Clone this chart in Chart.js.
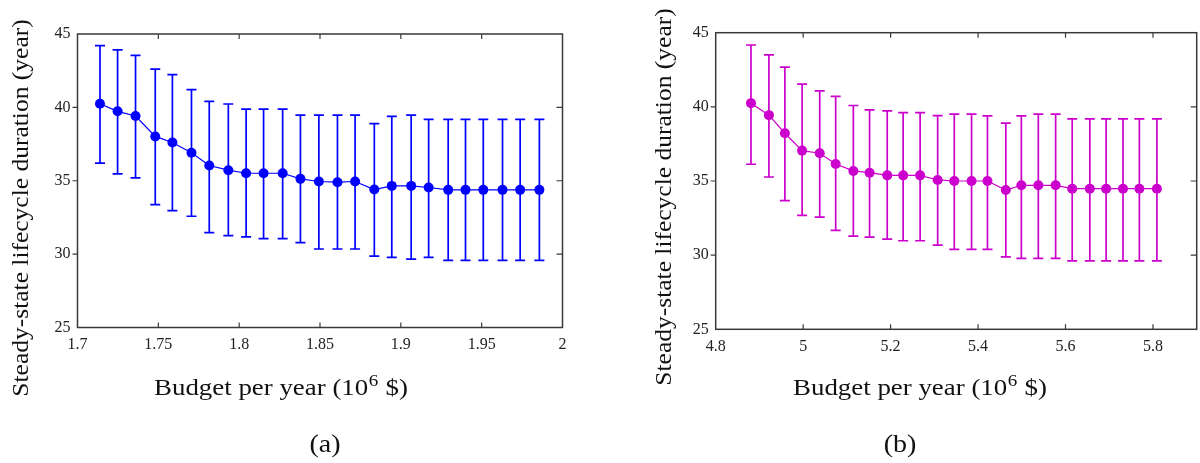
<!DOCTYPE html>
<html>
<head>
<meta charset="utf-8">
<script src="https://cdn.jsdelivr.net/npm/chart.js@4.4.1/dist/chart.umd.min.js"></script>
<style>
  html, body { margin: 0; padding: 0; background: #fff; }
  #wrap { position: relative; width: 1200px; height: 463px; }
  .pane { position: absolute; top: 0; width: 600px; height: 463px; }
</style>
</head>
<body>
<div id="wrap">
  <div class="pane" style="left:0"><canvas id="ca" width="600" height="463"></canvas></div>
  <div class="pane" style="left:600px"><canvas id="cb" width="600" height="463"></canvas></div>
</div>
<script>
// ---------- data: panel (a) ----------
const budgetA = [1.7139, 1.7248, 1.7359, 1.7481, 1.7587, 1.7705, 1.7815, 1.7933, 1.8043, 1.8151, 1.8269, 1.8379, 1.8493,
                 1.8608, 1.8717, 1.8836, 1.8944, 1.9064, 1.9172, 1.9293, 1.9400, 1.9510, 1.9629, 1.9738, 1.9857];
const meanA   = [40.25, 39.73, 39.41, 38.02, 37.61, 36.91, 36.04, 35.72, 35.51, 35.51, 35.51, 35.13, 34.95,
                 34.90, 34.95, 34.40, 34.65, 34.65, 34.54, 34.38, 34.38, 34.38, 34.38, 34.38, 34.38];
const upperA  = [44.21, 43.92, 43.55, 42.60, 42.23, 41.21, 40.41, 40.23, 39.88, 39.88, 39.88, 39.47, 39.47,
                 39.47, 39.47, 38.89, 39.39, 39.47, 39.18, 39.18, 39.18, 39.18, 39.18, 39.18, 39.18];
const lowerA  = [36.20, 35.47, 35.20, 33.37, 32.96, 32.58, 31.46, 31.26, 31.17, 31.05, 31.05, 30.78, 30.35,
                 30.35, 30.35, 29.87, 29.78, 29.66, 29.78, 29.57, 29.57, 29.57, 29.57, 29.57, 29.57];
const xTicksA = [1.7, 1.75, 1.8, 1.85, 1.9, 1.95, 2];

// ---------- data: panel (b) ----------
const budgetB = [4.8807, 4.9217, 4.9582, 4.9976, 5.0379, 5.0744, 5.1148, 5.1519, 5.1923, 5.2287, 5.2675, 5.3076, 5.3456,
                 5.3851, 5.4215, 5.4635, 5.4990, 5.5378, 5.5774, 5.6153, 5.6556, 5.6928, 5.7315, 5.7689, 5.8090];
const meanB   = [40.25, 39.44, 38.22, 37.05, 36.87, 36.15, 35.68, 35.56, 35.38, 35.38, 35.38, 35.07, 35.00,
                 35.00, 35.00, 34.39, 34.71, 34.71, 34.71, 34.48, 34.48, 34.48, 34.48, 34.48, 34.48];
const upperB  = [44.17, 43.51, 42.68, 41.53, 41.08, 40.70, 40.09, 39.80, 39.73, 39.61, 39.61, 39.41, 39.51,
                 39.51, 39.39, 38.90, 39.39, 39.51, 39.51, 39.19, 39.19, 39.19, 39.19, 39.19, 39.19];
const lowerB  = [36.13, 35.27, 33.67, 32.68, 32.57, 31.67, 31.28, 31.22, 31.08, 30.97, 30.97, 30.68, 30.39,
                 30.39, 30.39, 29.89, 29.78, 29.78, 29.78, 29.62, 29.62, 29.62, 29.62, 29.62, 29.62];
const xTicksB = [4.8, 5.0, 5.2, 5.4, 5.6, 5.8];

const yTicks = [25, 30, 35, 40, 45];

const yTitle = 'Steady-state lifecycle duration (year)';
const xTitleMain = 'Budget per year (10';
const xTitleSup = '6';
const xTitleEnd = ' $)';

const SERIF = '"Liberation Serif", "DejaVu Serif", serif';
const AXIS_COLOR = '#3a3a3a';

function fmt(v) { return String(Number(v.toFixed(3))); }

function makeChart(canvasId, cfg) {
  const overlay = {
    id: 'overlay_' + canvasId,
    beforeDatasetsDraw(chart) {
      const ctx = chart.ctx, xs = chart.scales.x, ys = chart.scales.y;
      ctx.save();
      ctx.strokeStyle = cfg.color;
      ctx.lineWidth = 1.7;
      for (let i = 0; i < cfg.budget.length; i++) {
        const px = xs.getPixelForValue(cfg.budget[i]);
        const pt = ys.getPixelForValue(cfg.upper[i]);
        const pb = ys.getPixelForValue(cfg.lower[i]);
        ctx.beginPath();
        ctx.moveTo(px, pt); ctx.lineTo(px, pb);
        ctx.moveTo(px - 5, pt); ctx.lineTo(px + 5, pt);
        ctx.moveTo(px - 5, pb); ctx.lineTo(px + 5, pb);
        ctx.stroke();
      }
      ctx.restore();
    },
    afterDraw(chart) {
      const ctx = chart.ctx, a = chart.chartArea, xs = chart.scales.x, ys = chart.scales.y;
      ctx.save();
      // frame
      ctx.strokeStyle = AXIS_COLOR;
      ctx.lineWidth = 1.5;
      ctx.strokeRect(a.left, a.top, a.right - a.left, a.bottom - a.top);
      ctx.lineWidth = 1.2;
      ctx.beginPath();
      xs.ticks.forEach(t => {
        const px = xs.getPixelForValue(t.value);
        if (Math.abs(px - a.left) < 1 || Math.abs(px - a.right) < 1) return;
        ctx.moveTo(px, a.bottom); ctx.lineTo(px, a.bottom - 5);
        ctx.moveTo(px, a.top); ctx.lineTo(px, a.top + 5);
      });
      ys.ticks.forEach(t => {
        const py = ys.getPixelForValue(t.value);
        if (Math.abs(py - a.top) < 1 || Math.abs(py - a.bottom) < 1) return;
        ctx.moveTo(a.left, py); ctx.lineTo(a.left - 5, py);
        ctx.moveTo(a.right, py); ctx.lineTo(a.right - 6, py);
      });
      ctx.stroke();

      // y title
      ctx.fillStyle = '#111';
      ctx.font = '25.5px ' + SERIF;
      ctx.textAlign = 'center';
      ctx.textBaseline = 'middle';
      ctx.save();
      ctx.translate(cfg.yTitleX, cfg.yTitleY);
      ctx.rotate(-Math.PI / 2);
      ctx.scale(1, 0.92);
      ctx.fillText(yTitle, 0, 0);
      ctx.restore();

      // x title with superscript (slightly wide, as in the reference)
      ctx.save();
      ctx.translate(cfg.xTitleX, cfg.xTitleY);
      ctx.scale(1.12, 1);
      ctx.textAlign = 'left';
      ctx.textBaseline = 'alphabetic';
      const big = '24px ' + SERIF, small = '17px ' + SERIF;
      ctx.font = big; const w1 = ctx.measureText(xTitleMain).width;
      const w3 = ctx.measureText(xTitleEnd).width;
      ctx.font = small; const w2 = ctx.measureText(xTitleSup).width + 1;
      const x0 = -(w1 + w2 + w3) / 2;
      ctx.font = big; ctx.fillText(xTitleMain, x0, 0);
      ctx.font = small; ctx.fillText(xTitleSup, x0 + w1 + 0.5, -9);
      ctx.font = big; ctx.fillText(xTitleEnd, x0 + w1 + w2, 0);
      ctx.restore();

      // caption
      ctx.font = '26px ' + SERIF;
      ctx.textAlign = 'center';
      ctx.textBaseline = 'middle';
      ctx.save();
      ctx.translate(cfg.capX, cfg.capY);
      ctx.scale(1.08, 1);
      ctx.fillText(cfg.caption, 0, 0);
      ctx.restore();
      ctx.restore();
    }
  };

  return new Chart(document.getElementById(canvasId), {
    type: 'scatter',
    data: {
      datasets: [{
        data: cfg.budget.map((x, i) => ({ x: x, y: cfg.mean[i] })),
        showLine: true,
        borderColor: cfg.color,
        backgroundColor: cfg.color,
        borderWidth: 1.2,
        pointRadius: 5,
        pointBorderWidth: 0,
        pointHoverRadius: 5
      }]
    },
    options: {
      responsive: false,
      animation: false,
      events: [],
      layout: { autoPadding: false, padding: cfg.padding },
      plugins: { legend: { display: false }, tooltip: { enabled: false } },
      scales: {
        x: {
          type: 'linear',
          min: cfg.xTicks[0],
          max: cfg.xMax,
          grid: { display: false, drawTicks: false },
          border: { display: false },
          afterBuildTicks(s) { s.ticks = cfg.xTicks.map(v => ({ value: v })); },
          afterFit(s) { s.height = cfg.xAxisH; },
          ticks: {
            padding: 8,
            color: '#222',
            font: { family: SERIF, size: 16 },
            maxRotation: 0,
            autoSkip: false,
            callback: v => fmt(v)
          }
        },
        y: {
          type: 'linear',
          min: yTicks[0],
          max: yTicks[yTicks.length - 1],
          grid: { display: false, drawTicks: false },
          border: { display: false },
          afterBuildTicks(s) { s.ticks = yTicks.map(v => ({ value: v })); },
          afterFit(s) { s.width = cfg.yAxisW; },
          ticks: {
            padding: 7,
            color: '#222',
            font: { family: SERIF, size: 16 },
            autoSkip: false,
            callback: v => fmt(v)
          }
        }
      }
    },
    plugins: [overlay]
  });
}

makeChart('ca', {
  budget: budgetA, mean: meanA, upper: upperA, lower: lowerA,
  xTicks: xTicksA, xMax: 2,
  color: '#0000ff',
  padding: { left: 0, top: 34, right: 37.5, bottom: 0 },
  yAxisW: 77.5, xAxisH: 135.5,
  yTitleX: 22, yTitleY: 208,
  xTitleX: 281, xTitleY: 395,
  caption: '(a)', capX: 325, capY: 445
});

makeChart('cb', {
  budget: budgetB, mean: meanB, upper: upperB, lower: lowerB,
  xTicks: xTicksB, xMax: 5.9,
  color: '#cc00cc',
  padding: { left: 0, top: 32.7, right: 3.3, bottom: 0 },
  yAxisW: 115.7, xAxisH: 133.7,
  yTitleX: 65, yTitleY: 197,
  xTitleX: 320, xTitleY: 395,
  caption: '(b)', capX: 300, capY: 445
});
</script>
</body>
</html>
